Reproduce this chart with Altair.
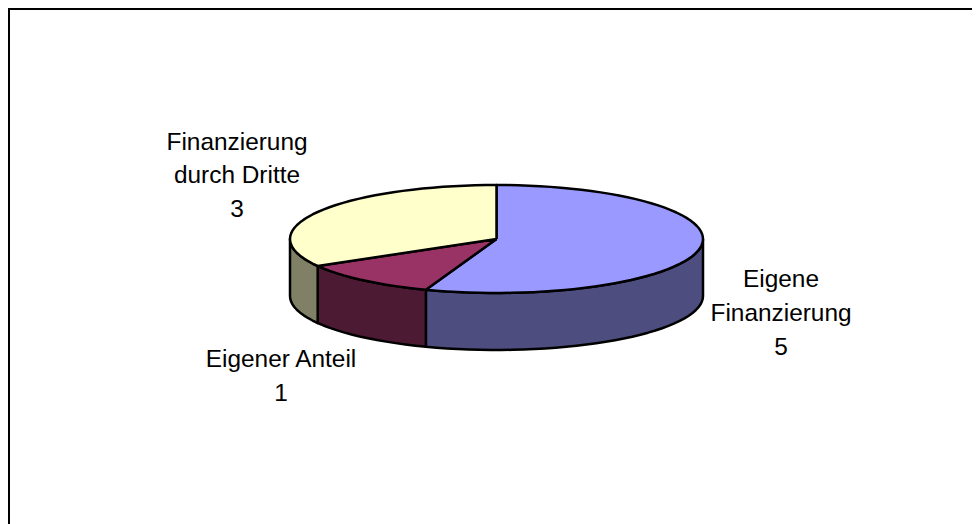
import math
import altair as alt
import pandas as pd

# Chart values
categories = ["Eigene Finanzierung", "Eigener Anteil", "Finanzierung durch Dritte"]
values = [5, 1, 3]
top_colors = ["#9999FF", "#993366", "#FFFFCC"]
wall_colors = ["#4D4D80", "#4D1A33", "#808066"]
label_lines = [["Eigene", "Finanzierung", "5"], ["Eigener Anteil", "1"], ["Finanzierung", "durch Dritte", "3"]]
label_x = [[781, 781, 781], [281, 281], [237, 237, 237]]
label_y = [[280, 314, 348], [360, 394], [143, 176, 210]]

# Page geometry (pixels in the screenshot); the svg starts at 8,8
W, H = 964, 516
CX, CY, RX, RY, DEPTH = 496.5, 239.0, 206.5, 54.0, 57.0
xs = alt.Scale(domain=[8, 8 + W], range=[0, W], nice=False, zero=False)
ys = alt.Scale(domain=[8, 8 + H], range=[0, H], nice=False, zero=False)


def pt(a, drop=0.0):
    r = math.radians(a)
    return CX + RX * math.sin(r), CY - RY * math.cos(r) + drop


rows_top, rows_wall = [], []
total = sum(values)
start = 0.0
for i, (cat, v) in enumerate(zip(categories, values)):
    end = start + 360.0 * v / total
    n = max(2, int((end - start) / 3))
    arc = [start + (end - start) * k / n for k in range(n + 1)]
    poly = [(CX, CY)] + [pt(a) for a in arc] + [(CX, CY)]
    for k, (x, y) in enumerate(poly):
        rows_top.append(dict(cat=cat, o=k, x=x, y=y))
    lo, hi = max(start, 90.0), min(end, 270.0)
    if lo < hi:
        m = max(2, int((hi - lo) / 3))
        wa = [lo + (hi - lo) * k / m for k in range(m + 1)]
        wp = [pt(a) for a in wa] + [pt(a, DEPTH) for a in reversed(wa)]
        wp.append(wp[0])
        for k, (x, y) in enumerate(wp):
            rows_wall.append(dict(cat=cat, o=k, x=x, y=y))
    start = end

top_df = pd.DataFrame(rows_top)
wall_df = pd.DataFrame(rows_wall)

layers = []
for df, colors in ((wall_df, wall_colors), (top_df, top_colors)):
    for cat, col in zip(categories, colors):
        sub = df[df["cat"] == cat]
        if len(sub):
            layers.append(
                alt.Chart(sub).mark_line(fill=col, stroke="black", strokeWidth=2.5, strokeJoin="round").encode(
                    x=alt.X("x:Q", scale=xs, axis=None),
                    y=alt.Y("y:Q", scale=ys, axis=None),
                    order="o:Q",
                )
            )

lab = pd.DataFrame(
    [
        dict(t=t, x=x, y=y)
        for ls, lx, ly in zip(label_lines, label_x, label_y)
        for t, x, y in zip(ls, lx, ly)
    ]
)
text = alt.Chart(lab).mark_text(font="Liberation Sans", fontSize=24.4, color="black", align="center", baseline="middle").encode(
    x=alt.X("x:Q", scale=xs, axis=None), y=alt.Y("y:Q", scale=ys, axis=None), text="t:N"
)

frame_top = alt.Chart(pd.DataFrame({"a": [0]})).mark_rule(color="black", strokeWidth=2).encode(
    x=alt.value(0), x2=alt.value(W), y=alt.value(1)
)
frame_left = alt.Chart(pd.DataFrame({"a": [0]})).mark_rule(color="black", strokeWidth=2).encode(
    x=alt.value(1), y=alt.value(0), y2=alt.value(H)
)

chart = (
    alt.layer(*layers, text, frame_top, frame_left)
    .resolve_scale(x="shared", y="shared")
    .properties(width=W, height=H, padding=0, autosize=alt.AutoSizeParams(type="none"), background="white")
    .configure_view(stroke=None)
)
chart.save("out.html", embed_options={"renderer": "svg", "actions": False})
